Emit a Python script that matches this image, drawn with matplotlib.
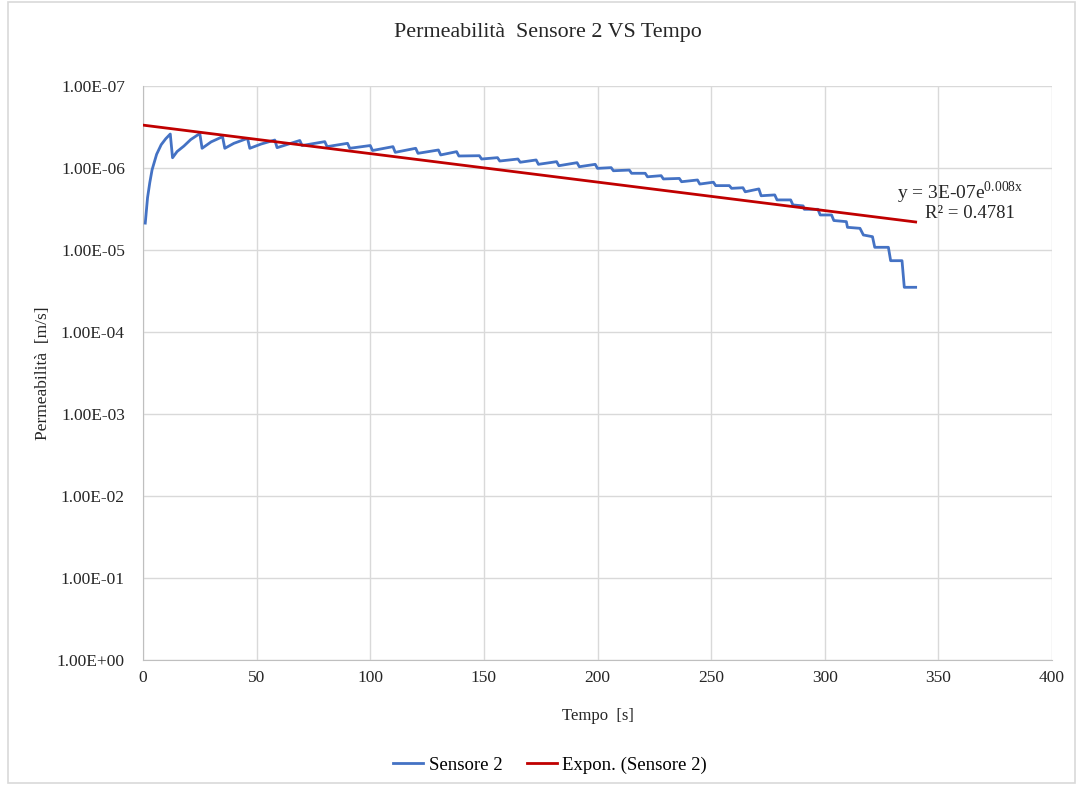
"""Permeability of sensor 2 over time, log axis reversed as in the lab sheet,
with the exponential trend fitted in the spreadsheet drawn from its
reported coefficients."""

import numpy as np
import matplotlib.pyplot as plt
from matplotlib.patches import Rectangle

BLUE = "#4472C4"
RED = "#C00000"
GRID = "#D9D9D9"
TXT = "#262626"
SERIF = ["Liberation Serif", "DejaVu Serif"]

# sensor 2 record: time [s], permeability [m/s]
time_s = [
    1, 2, 3, 4, 6, 8, 10, 12,
    13, 15, 18, 21, 25,
    26, 30, 35,
    36, 40, 46,
    47, 52, 58,
    59, 69,
    70, 80,
    81, 90,
    91, 100,
    101, 110,
    111, 120,
    121, 130,
    131, 138,
    139, 148,
    149, 156,
    157, 165,
    166, 173,
    174, 182,
    183, 191,
    192, 199,
    200, 206,
    207, 214,
    215, 221,
    222, 228,
    229, 236,
    237, 244,
    245, 251,
    252, 258,
    259, 264,
    265, 271,
    272, 278,
    279, 285,
    286, 290.5,
    291, 297,
    298, 303,
    304, 309.5,
    310, 315.5,
    317, 321,
    322, 328,
    329, 334,
    335, 340,
]
perm_ms = [
    4.7e-6, 2.3e-6, 1.5e-6, 1.05e-6, 6.8e-7, 5.2e-7, 4.4e-7, 3.85e-7,
    7.5e-7, 6.3e-7, 5.4e-7, 4.5e-7, 3.8e-7,
    5.75e-7, 4.8e-7, 4.15e-7,
    5.75e-7, 5.0e-7, 4.35e-7,
    5.75e-7, 5.1e-7, 4.56e-7,
    5.65e-7, 4.62e-7,
    5.32e-7, 4.77e-7,
    5.49e-7, 5.0e-7,
    5.75e-7, 5.32e-7,
    6.12e-7, 5.49e-7,
    6.44e-7, 5.75e-7,
    6.62e-7, 6.03e-7,
    6.93e-7, 6.32e-7,
    7.14e-7, 7.08e-7,
    7.77e-7, 7.48e-7,
    8.22e-7, 7.77e-7,
    8.51e-7, 7.98e-7,
    9.02e-7, 8.37e-7,
    9.38e-7, 8.61e-7,
    9.65e-7, 9.02e-7,
    1.01e-6, 9.9e-7,
    1.08e-6, 1.06e-6,
    1.16e-6, 1.16e-6,
    1.28e-6, 1.24e-6,
    1.36e-6, 1.34e-6,
    1.47e-6, 1.40e-6,
    1.57e-6, 1.49e-6,
    1.64e-6, 1.64e-6,
    1.77e-6, 1.74e-6,
    1.95e-6, 1.80e-6,
    2.18e-6, 2.13e-6,
    2.45e-6, 2.45e-6,
    2.82e-6, 2.90e-6,
    3.19e-6, 3.19e-6,
    3.74e-6, 3.74e-6,
    4.37e-6, 4.51e-6,
    5.29e-6, 5.44e-6,
    6.56e-6, 6.88e-6,
    9.27e-6, 9.27e-6,
    1.35e-5, 1.35e-5,
    2.85e-5, 2.85e-5,
]

# spreadsheet exponential trend: y = a * exp(b x), R^2 as reported
TREND_A, TREND_B, TREND_R2 = 3e-7, 0.008, 0.4781

x_ticks = list(range(0, 401, 50))
y_ticks = [1e-7, 1e-6, 1e-5, 1e-4, 1e-3, 1e-2, 1e-1, 1e0]

plt.rcParams["font.family"] = SERIF
plt.rcParams["mathtext.fontset"] = "custom"
plt.rcParams["mathtext.rm"] = "Liberation Serif"

fig = plt.figure(figsize=(10.83, 7.85), dpi=100)
fig.patches.append(Rectangle((0.007, 0.003), 0.986, 0.994, transform=fig.transFigure,
                             fill=False, ec="#D9D9D9", lw=1.2))
ax = fig.add_axes([143 / 1083, 1 - 660 / 785, 909 / 1083, 574 / 785])

t = np.array(time_s)
ax.plot(t, perm_ms, color=BLUE, lw=2.0, label="Sensore 2", zorder=3)
tt = np.linspace(0, max(time_s), 200)
ax.plot(tt, TREND_A * np.exp(TREND_B * tt), color=RED, lw=2.0,
        label="Expon. (Sensore 2)", zorder=4)

ax.set_yscale("log")
ax.set_ylim(1e0, 1e-7)
ax.set_xlim(0, 400)
ax.set_yticks(y_ticks)
ax.set_yticklabels([f"{v:.2E}" for v in y_ticks])
ax.minorticks_off()
ax.set_xticks(x_ticks)
ax.tick_params(length=0, labelsize=12.5, colors=TXT)
ax.tick_params(axis="x", pad=7)
ax.tick_params(axis="y", pad=13)
ax.grid(True, color=GRID, lw=1.0)
for s in ("top", "right"):
    ax.spines[s].set_visible(False)
for s in ("left", "bottom"):
    ax.spines[s].set_color("#BFBFBF")

ax.set_xlabel("Tempo  [s]", fontsize=12, color=TXT, labelpad=16)
ax.set_ylabel("Permeabilità  [m/s]", fontsize=12.5, color=TXT, labelpad=4)
fig.text(0.506, 0.959, "Permeabilità  Sensore 2 VS Tempo", ha="center", va="center",
         fontsize=15.8, color=TXT)

ax.text(332, 2.0e-6, "y = 3E-07e$^{\\mathregular{0.008x}}$", fontsize=14,
        color=TXT, ha="left", va="center")
ax.text(344, 3.55e-6, f"R² = {TREND_R2}", fontsize=13.5, color=TXT,
        ha="left", va="center")

ax.legend(loc="center", bbox_to_anchor=(0.448, -0.183), ncol=2, frameon=False,
          fontsize=13.5, handlelength=1.6, handletextpad=0.3, columnspacing=1.3)

fig.savefig("out.png", dpi=100)
